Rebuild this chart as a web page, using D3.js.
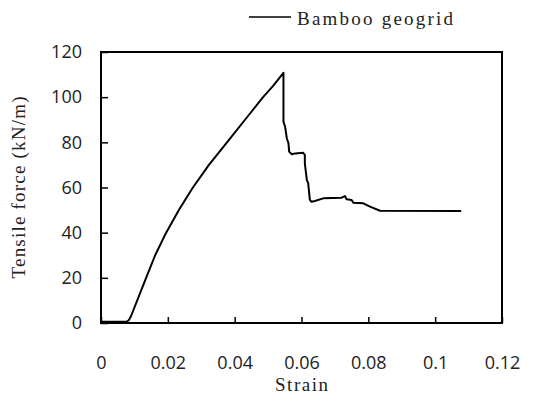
<!DOCTYPE html>
<html>
<head>
<meta charset="utf-8">
<script src="https://cdn.jsdelivr.net/npm/d3@7"></script>
<style>
    body { margin: 0; background: #fff; }
    .tick text { font-family: "Open Sans", sans-serif; font-size: 18px; fill: #222; }
    .title { font-family: "Liberation Serif", "Times New Roman", serif; font-size: 19px; fill: #222; }
</style>
</head>
<body>
<div id="chart"></div>
<script>
// strain vs tensile force
const strain = [0, 0.0076, 0.0083, 0.009, 0.0135, 0.0162, 0.0195, 0.0233, 0.0275,
    0.0323, 0.0377, 0.0431, 0.0485, 0.0515, 0.0546,
    0.0546, 0.0551, 0.0556, 0.0561, 0.0563, 0.0571, 0.0581, 0.0605, 0.061, 0.061,
    0.0616, 0.062, 0.0625, 0.063, 0.064, 0.0665, 0.072, 0.073, 0.0735, 0.075,
    0.0755, 0.0785, 0.0805, 0.0835, 0.1078];
const force = [0.5, 0.5, 1.2, 3.1, 20, 30, 40, 50, 60,
    70, 80, 90, 100, 105, 110.8,
    89.1, 86.9, 81.8, 79.6, 75.9, 74.7, 75.1, 75.4, 74.4, 70.7,
    63.3, 61.9, 54.5, 53.7, 54.0, 55.2, 55.5, 56.2, 54.8, 54.5,
    53.3, 53.0, 51.5, 49.7, 49.6];

const xTicks = [0, 0.02, 0.04, 0.06, 0.08, 0.1, 0.12];
const yTicks = [0, 20, 40, 60, 80, 100, 120];
const seriesName = "Bamboo geogrid";
const xTitle = "Strain";
const yTitle = "Tensile force (kN/m)";

const width = 537, height = 401;
const plotLeft = 101, plotRight = 502, plotTop = 52, plotBottom = 323;

const svg = d3.select("#chart").append("svg")
    .attr("width", width)
    .attr("height", height);

const x = d3.scaleLinear().domain([0, 0.12]).range([plotLeft, plotRight]);
const y = d3.scaleLinear().domain([0, 120]).range([plotBottom, plotTop]);

// axes, ticks pointing into the plot
svg.append("g")
    .attr("transform", `translate(0,${plotBottom})`)
    .call(d3.axisBottom(x).tickValues(xTicks)
        .tickFormat(d => String(+d.toFixed(2)))
        .tickSizeInner(-6).tickSizeOuter(0).tickPadding(33))
    .call(g => g.select(".domain").remove())
    .call(g => g.selectAll(".tick line").attr("stroke", "#000").attr("stroke-width", 1.5));

svg.append("g")
    .attr("transform", `translate(${plotLeft},0)`)
    .call(d3.axisLeft(y).tickValues(yTicks)
        .tickSizeInner(-7).tickSizeOuter(0).tickPadding(19))
    .call(g => g.select(".domain").remove())
    .call(g => g.selectAll(".tick line").attr("stroke", "#000").attr("stroke-width", 1.5));

// plot frame
svg.append("rect")
    .attr("x", plotLeft)
    .attr("y", plotTop)
    .attr("width", plotRight - plotLeft)
    .attr("height", plotBottom - plotTop)
    .attr("fill", "none")
    .attr("stroke", "#000")
    .attr("stroke-width", 2);

const points = strain.map((s, i) => [s, force[i]]);

const line = d3.line()
    .x(d => x(d[0]))
    .y(d => y(d[1]));

svg.append("path")
    .datum(points)
    .attr("d", line)
    .attr("fill", "none")
    .attr("stroke", "#000")
    .attr("stroke-width", 2)
    .attr("stroke-linejoin", "round");

// legend
svg.append("line")
    .attr("x1", 249).attr("x2", 291)
    .attr("y1", 17).attr("y2", 17)
    .attr("stroke", "#000")
    .attr("stroke-width", 1.5);

svg.append("text")
    .attr("class", "title")
    .attr("x", 297)
    .attr("y", 25)
    .attr("textLength", 156)
    .attr("lengthAdjust", "spacing")
    .text(seriesName);

// axis titles
svg.append("text")
    .attr("class", "title")
    .attr("x", (plotLeft + plotRight) / 2)
    .attr("y", 391)
    .attr("text-anchor", "middle")
    .attr("textLength", 53)
    .attr("lengthAdjust", "spacing")
    .text(xTitle);

svg.append("text")
    .attr("class", "title")
    .attr("transform", `translate(25,${(plotTop + plotBottom) / 2}) rotate(-90)`)
    .attr("text-anchor", "middle")
    .attr("textLength", 182)
    .attr("lengthAdjust", "spacing")
    .text(yTitle);
</script>
</body>
</html>
